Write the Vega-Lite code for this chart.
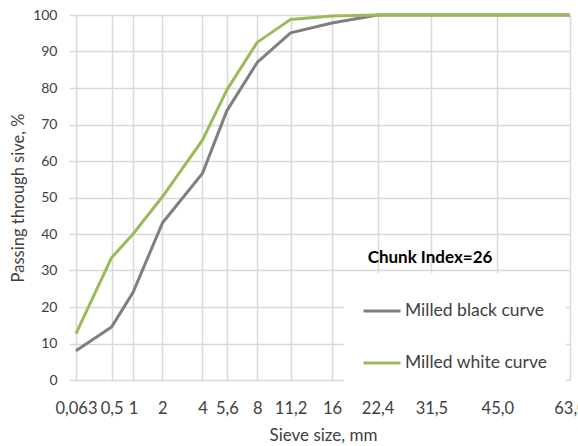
{
  "$schema": "https://vega.github.io/schema/vega-lite/v6.json",
  "width": 494,
  "height": 365,
  "autosize": {"type": "none"},
  "padding": {"left": 76, "top": 15, "right": 8, "bottom": 66},
  "background": "white",
  "config": {
    "font": "Lato",
    "view": {"stroke": null},
    "axis": {
      "labelFont": "Lato",
      "titleFont": "Lato",
      "labelColor": "#404040",
      "titleColor": "#404040",
      "titleFontWeight": "normal",
      "gridColor": "#d9d9d9",
      "gridWidth": 1.5,
      "domain": false
    }
  },
  "datasets": {
    "curves": [
      {"series": "Milled black curve", "sieve": 0.063, "passing": 8},
      {"series": "Milled black curve", "sieve": 0.5, "passing": 14.5},
      {"series": "Milled black curve", "sieve": 1, "passing": 24},
      {"series": "Milled black curve", "sieve": 2, "passing": 43},
      {"series": "Milled black curve", "sieve": 4, "passing": 56.6},
      {"series": "Milled black curve", "sieve": 5.6, "passing": 73.8},
      {"series": "Milled black curve", "sieve": 8, "passing": 87},
      {"series": "Milled black curve", "sieve": 11.2, "passing": 95.1},
      {"series": "Milled black curve", "sieve": 16, "passing": 97.8},
      {"series": "Milled black curve", "sieve": 22.4, "passing": 100},
      {"series": "Milled black curve", "sieve": 31.5, "passing": 100},
      {"series": "Milled black curve", "sieve": 45, "passing": 100},
      {"series": "Milled black curve", "sieve": 63, "passing": 100},
      {"series": "Milled white curve", "sieve": 0.063, "passing": 12.7},
      {"series": "Milled white curve", "sieve": 0.5, "passing": 33.5},
      {"series": "Milled white curve", "sieve": 1, "passing": 40},
      {"series": "Milled white curve", "sieve": 2, "passing": 50.2},
      {"series": "Milled white curve", "sieve": 4, "passing": 65.7},
      {"series": "Milled white curve", "sieve": 5.6, "passing": 79.5},
      {"series": "Milled white curve", "sieve": 8, "passing": 92.5},
      {"series": "Milled white curve", "sieve": 11.2, "passing": 98.8},
      {"series": "Milled white curve", "sieve": 16, "passing": 99.7},
      {"series": "Milled white curve", "sieve": 22.4, "passing": 100},
      {"series": "Milled white curve", "sieve": 31.5, "passing": 100},
      {"series": "Milled white curve", "sieve": 45, "passing": 100},
      {"series": "Milled white curve", "sieve": 63, "passing": 100}
    ]
  },
  "layer": [
    {
      "data": {"name": "curves"},
      "mark": {"type": "line", "strokeWidth": 3, "strokeJoin": "round"},
      "encoding": {
        "x": {
          "field": "sieve",
          "type": "quantitative",
          "scale": {"type": "pow", "exponent": 0.45, "domain": [0.063, 63], "nice": false, "zero": false},
          "axis": {
            "title": "Sieve size, mm",
            "values": [0.063, 0.5, 1, 2, 4, 5.6, 8, 11.2, 16, 22.4, 31.5, 45, 63],
            "labelExpr": "datum.value == 45 ? '45,0' : datum.value == 63 ? '63,0' : replace(toString(datum.value), '.', ',')",
            "ticks": false,
            "tickSize": 0,
            "labelFontSize": 16.5,
            "titleFontSize": 17,
            "labelPadding": 20,
            "labelOverlap": false,
            "labelFlush": false,
            "labelBound": false,
            "titlePadding": 11
          }
        },
        "y": {
          "field": "passing",
          "type": "quantitative",
          "scale": {"domain": [0, 100], "nice": false},
          "axis": {
            "title": "Passing through sive, %",
            "values": [0, 10, 20, 30, 40, 50, 60, 70, 80, 90, 100],
            "labelOverlap": false,
            "tickSize": 7,
            "tickColor": "#d9d9d9",
            "tickWidth": 1.5,
            "labelFontSize": 14,
            "titleFontSize": 16.5,
            "labelPadding": 12,
            "titlePadding": 6
          }
        },
        "color": {
          "field": "series",
          "type": "nominal",
          "scale": {"domain": ["Milled black curve", "Milled white curve"], "range": ["#7f7f7f", "#9bbb59"]},
          "legend": {
            "title": null,
            "orient": "none",
            "legendX": 268,
            "legendY": 258,
            "padding": 18,
            "fillColor": "white",
            "symbolType": "stroke",
            "symbolSize": 1369,
            "symbolStrokeWidth": 3,
            "labelFont": "Lato",
            "labelFontSize": 17.5,
            "labelColor": "#404040",
            "labelOffset": 3,
            "rowPadding": 23
          }
        }
      }
    },
    {
      "data": {"values": [{}]},
      "mark": {"type": "text", "text": "Chunk Index=26", "align": "left", "baseline": "middle", "fontWeight": "bold", "fontSize": 17, "font": "Lato", "color": "#000000"},
      "encoding": {
        "x": {
          "datum": 20.9,
          "type": "quantitative",
          "axis": {
            "title": "Sieve size, mm",
            "values": [0.063, 0.5, 1, 2, 4, 5.6, 8, 11.2, 16, 22.4, 31.5, 45, 63],
            "labelExpr": "datum.value == 45 ? '45,0' : datum.value == 63 ? '63,0' : replace(toString(datum.value), '.', ',')",
            "ticks": false,
            "tickSize": 0,
            "labelFontSize": 16.5,
            "titleFontSize": 17,
            "labelPadding": 20,
            "labelOverlap": false,
            "labelFlush": false,
            "labelBound": false,
            "titlePadding": 11
          }
        },
        "y": {
          "datum": 33.3,
          "type": "quantitative",
          "axis": {
            "title": "Passing through sive, %",
            "values": [0, 10, 20, 30, 40, 50, 60, 70, 80, 90, 100],
            "labelOverlap": false,
            "tickSize": 7,
            "tickColor": "#d9d9d9",
            "tickWidth": 1.5,
            "labelFontSize": 14,
            "titleFontSize": 16.5,
            "labelPadding": 12,
            "titlePadding": 6
          }
        }
      }
    }
  ]
}
